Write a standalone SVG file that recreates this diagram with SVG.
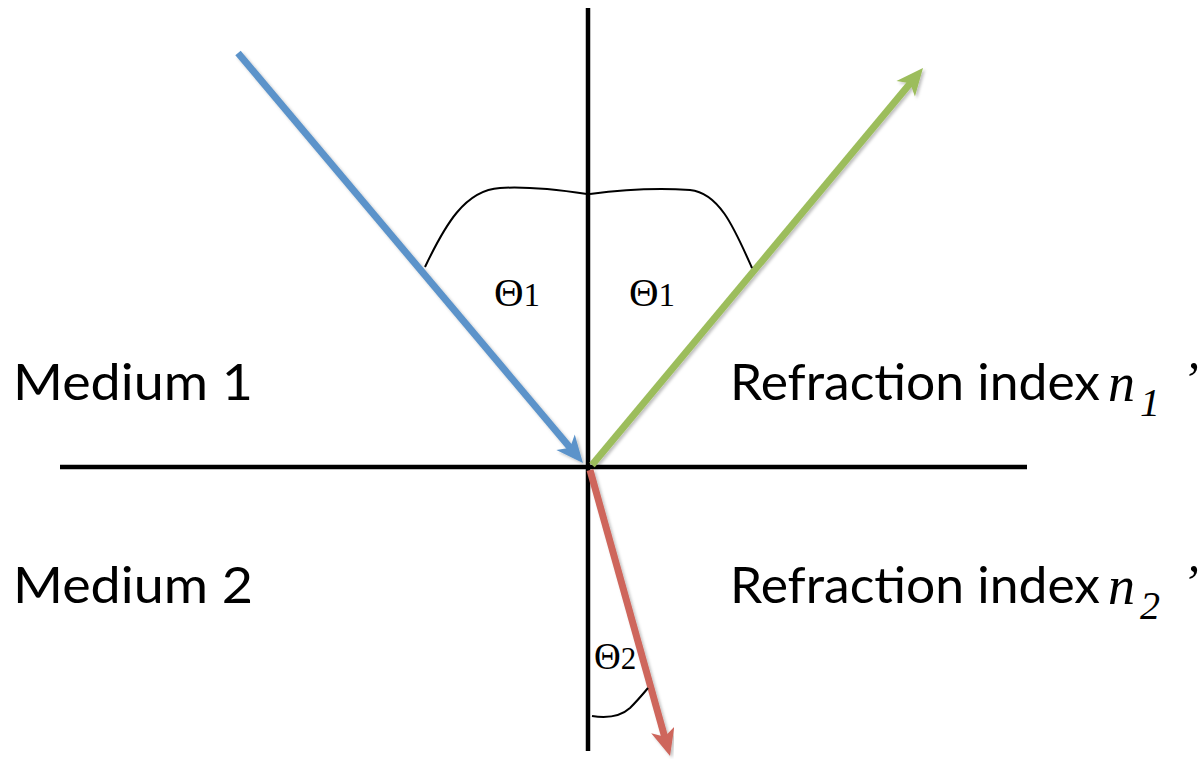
<svg xmlns="http://www.w3.org/2000/svg" width="1199" height="759" viewBox="0 0 1199 759">
<style>
.axis{stroke:#000;stroke-width:4.5;fill:none}
.ray{stroke-width:7;fill:none;stroke-linecap:butt;filter:url(#sh)}
.arc{stroke:#000;stroke-width:2;fill:none}
.lbl{font-family:Lato,"Open Sans","Liberation Sans",sans-serif;font-size:51px;fill:#000}
.ang{font-family:"Liberation Serif","Times New Roman",serif;fill:#000}
.math{font-family:"Liberation Serif","Times New Roman",serif;font-style:italic;fill:#000}
</style>
<defs>
<filter id="sh" x="-10%" y="-10%" width="120%" height="120%">
<feDropShadow dx="2" dy="2" stdDeviation="1.5" flood-color="#000" flood-opacity="0.25"/>
</filter>
<marker id="mb" markerUnits="userSpaceOnUse" viewBox="-14 -13 32 26" refX="0" refY="0" markerWidth="32" markerHeight="26" orient="auto" overflow="visible">
<path d="M15,0 L-12,-12 L-5,0 L-12,12 Z" fill="#5B93CA"/>
</marker>
<marker id="mg" markerUnits="userSpaceOnUse" viewBox="-14 -13 32 26" refX="0" refY="0" markerWidth="32" markerHeight="26" orient="auto" overflow="visible">
<path d="M15,0 L-12,-12 L-5,0 L-12,12 Z" fill="#9CBD5B"/>
</marker>
<marker id="mr" markerUnits="userSpaceOnUse" viewBox="-14 -13 32 26" refX="0" refY="0" markerWidth="32" markerHeight="26" orient="auto" overflow="visible">
<path d="M15,0 L-12,-12 L-5,0 L-12,12 Z" fill="#CE665C"/>
</marker>
</defs>
<rect width="1199" height="759" fill="#fff"/>
<g id="connectors">
<line class="axis" x1="588" y1="8" x2="588" y2="751"/>
<line class="axis" x1="60" y1="467" x2="1027" y2="467"/>
<line id="incident" class="ray" stroke="#5B93CA" x1="238" y1="53" x2="573.3" y2="451.5" marker-end="url(#mb)"/>
<line id="reflected" class="ray" stroke="#9CBD5B" x1="592" y1="465" x2="913.4" y2="79.5" marker-end="url(#mg)"/>
<line id="refracted" class="ray" stroke="#CE665C" x1="590" y1="470" x2="666" y2="741.6" marker-end="url(#mr)"/>
<path class="arc" d="M425,267 C445,225 465,190 500,188 C530,186 560,190 587,194"/>
<path class="arc" d="M590,194 C620,190 660,188 690,190 C720,193 735,230 752,268"/>
<path class="arc" d="M592,716 C605,718 620,717 630,708 C638,700 643,694 648,688"/>
</g>
<g id="theta1-left"><text class="ang" x="494" y="306" font-size="41">Θ<tspan font-size="33">1</tspan></text></g>
<g id="theta1-right"><text class="ang" x="629" y="306" font-size="41">Θ<tspan font-size="33">1</tspan></text></g>
<g id="theta2"><text class="ang" x="594" y="669" font-size="37">Θ<tspan font-size="31">2</tspan></text></g>
<g id="medium1"><text class="lbl" x="13" y="400" textLength="240" lengthAdjust="spacingAndGlyphs">Medium 1</text></g>
<g id="medium2"><text class="lbl" x="13" y="603" textLength="240" lengthAdjust="spacingAndGlyphs">Medium 2</text></g>
<g id="index1">
<text class="lbl" x="730" y="400" textLength="370" lengthAdjust="spacingAndGlyphs">Refraction index</text>
<text class="math" x="1108" y="401" font-size="54">n</text>
<text class="math" x="1140" y="416" font-size="40">1</text>
<text class="math" x="1182" y="396" font-size="50">’</text>
</g>
<g id="index2">
<text class="lbl" x="730" y="603" textLength="370" lengthAdjust="spacingAndGlyphs">Refraction index</text>
<text class="math" x="1108" y="604" font-size="54">n</text>
<text class="math" x="1140" y="619" font-size="40">2</text>
<text class="math" x="1182" y="599" font-size="50">’</text>
</g>
</svg>
